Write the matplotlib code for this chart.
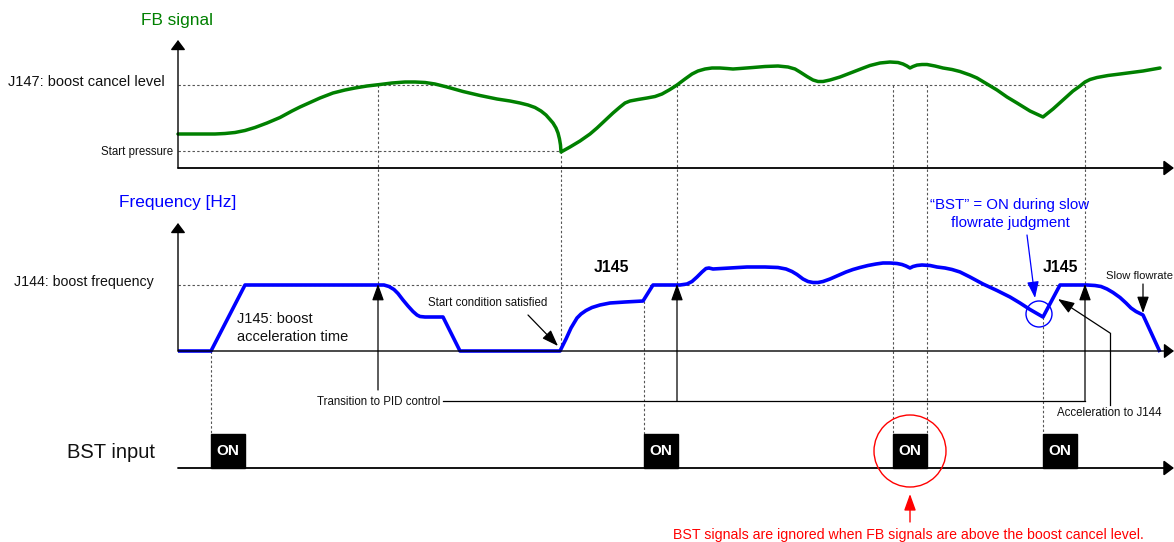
import matplotlib
matplotlib.use("Agg")
import matplotlib.pyplot as plt
from matplotlib.patches import Circle, Rectangle

plt.rcParams['font.family'] = ['Liberation Sans', 'DejaVu Sans']

# ---------------- data (diagram units: x = time, y = screen level) ----------------
fb_x = [178, 200, 215, 225, 235, 245, 255, 267, 280, 292, 300, 310, 320, 333, 345, 355, 367, 380,
        392, 405, 415, 425, 435, 447, 463, 480, 497, 510, 520, 528, 535, 541, 546, 550, 553, 556,
        558, 559.5, 560.5, 561, 570, 580, 590, 597, 605, 613, 620, 625, 630, 638, 647, 655, 662,
        670, 677, 685, 692, 698, 705, 712, 720, 727, 733, 740, 753, 765, 778, 788, 795, 800, 807,
        813, 818, 823, 830, 840, 853, 862, 870, 880, 890, 898, 903, 907, 910, 913, 917, 922, 927,
        935, 943, 952, 960, 970, 977, 987, 997, 1007, 1017, 1030, 1043, 1053, 1063, 1073, 1080,
        1085, 1090, 1097, 1108, 1120, 1143, 1160]
fb_y = [134, 134, 134, 133.5, 132.5, 130.5, 127.5, 123, 117.5, 111, 107, 102.5, 98, 93, 90, 88, 86, 84.5,
        83, 82, 82, 82.5, 84, 87, 91.5, 95.5, 99, 101, 103, 105, 107.5, 111, 115, 119.5, 123, 128,
        133, 139, 145, 152, 147, 141, 134, 128, 120.5, 113, 107, 103, 101, 99.5, 98, 96.5, 94,
        89.5, 85, 79, 74, 71, 69, 68, 68, 68.5, 69, 68.5, 67.5, 66.5, 66, 67, 69, 72, 76.5,
        80, 81.5, 81.5, 80, 77, 72, 68.5, 65.5, 63, 62, 62.5, 64, 66, 68, 66.5, 65, 64.5, 64.5,
        66, 68, 69.5, 71.5, 75, 78, 84, 90, 97, 103, 111, 117, 109, 100, 91, 86,
        82, 79.5, 77.5, 75.5, 74, 71, 68]

freq_x = [178, 211, 245, 378, 384, 389, 394, 398, 403, 408, 413, 417, 420, 425, 443, 460, 560, 566,
          571, 577, 581, 586, 592, 600, 610, 625, 643, 653, 680, 687, 692, 697, 702, 706, 709, 713,
          730, 747, 765, 778, 786, 792, 797, 803, 808, 813, 818, 823, 830, 838, 846, 853, 860, 868,
          876, 883, 890, 897, 902, 906, 910, 913, 917, 922, 930, 937, 945, 952, 960, 970, 983, 997,
          1010, 1020, 1030, 1043, 1060, 1087, 1095, 1101, 1107, 1113, 1120, 1126, 1131, 1136, 1143, 1160]
freq_y = [351, 351, 285, 285, 285, 286.5, 289.5, 293.5, 300, 306, 311.5, 315, 316.5, 317, 317, 351, 351, 339,
          328, 318, 314, 310.5, 307.5, 305, 303, 302, 301, 285, 285, 284, 281.5, 277, 272, 268.5, 268, 269,
          268, 267, 267, 267.5, 269, 271.5, 274.5, 279, 281.5, 282.5, 282.5, 281.5, 279, 275.5, 272, 269.5, 267.5, 265.5,
          264, 263, 263, 263.5, 264.5, 266, 268, 266.5, 265.5, 265, 265.5, 267, 268, 269.5, 272, 277, 284, 290.5,
          297, 303, 309.5, 317, 285, 285, 285.5, 286.5, 289, 292.5, 297.5, 303, 308, 311.5, 315, 352]

cancel_level_y = 85
start_pressure_y = 151
boost_freq_y = 285
fb_axis_y = 168
freq_axis_y = 351
bst_axis_y = 468
axis_x0 = 178
axis_x1 = 1174

bst_on_x = [211, 644, 893, 1043]
on_w = 34
on_top = 434

GREEN = '#008000'
BLUE = '#0000FF'
RED = '#FF0000'
DOT = '#555555'
TXT = '#111111'

fig = plt.figure(figsize=(11.74, 5.42), dpi=100)
ax = fig.add_axes([0, 0, 1, 1])
ax.set_xlim(0, 1174)
ax.set_ylim(542, 0)
ax.axis('off')

dot_kw = dict(color=DOT, lw=0.8, ls=(0, (2.2, 2.0)), zorder=1)


def arrow(x0, y0, x1, y1, color='black', ms=10, lw=0.9, hw=0.36, hl=1.0):
    ax.annotate('', xy=(x1, y1), xytext=(x0, y0),
                arrowprops=dict(arrowstyle=f'-|>,head_width={hw},head_length={hl}',
                                color=color, lw=lw, shrinkA=0, shrinkB=0,
                                mutation_scale=ms), zorder=4)


# ---------------- axes ----------------
ax_kw = dict(color='black', ms=10, hw=0.45, hl=0.6)
arrow(axis_x0, fb_axis_y, axis_x0, 40, lw=1.0, **ax_kw)
arrow(axis_x0, fb_axis_y, axis_x1, fb_axis_y, lw=1.3, **ax_kw)
arrow(axis_x0, freq_axis_y, axis_x0, 223, lw=1.0, **ax_kw)
arrow(axis_x0, freq_axis_y, axis_x1, freq_axis_y, lw=1.0, **ax_kw)
arrow(axis_x0, bst_axis_y, axis_x1, bst_axis_y, lw=1.3, **ax_kw)

# ---------------- level lines ----------------
ax.plot([axis_x0, 1085], [cancel_level_y] * 2, **dot_kw)
ax.plot([axis_x0, 561], [start_pressure_y] * 2, **dot_kw)
ax.plot([axis_x0, 1085], [boost_freq_y] * 2, **dot_kw)

# vertical dotted guides
for gx, ya, yb in [(378, cancel_level_y, boost_freq_y), (561, start_pressure_y, freq_axis_y),
                   (677, cancel_level_y, boost_freq_y), (893, cancel_level_y, on_top),
                   (927, cancel_level_y, on_top), (1085, cancel_level_y, boost_freq_y),
                   (211, freq_axis_y, on_top), (644, 301, on_top), (1043, 317, on_top)]:
    ax.plot([gx, gx], [ya, yb], **dot_kw)

# ---------------- curves ----------------
ax.plot(fb_x, fb_y, color=GREEN, lw=2.5, solid_joinstyle='round', solid_capstyle='round', zorder=3)
ax.plot(freq_x, freq_y, color=BLUE, lw=2.6, solid_joinstyle='round', solid_capstyle='butt', zorder=3)

# ---------------- labels ----------------
ax.text(177, 20, 'FB signal', color=GREEN, fontsize=12.4, ha='center', va='center')
ax.text(178, 203, 'Frequency [Hz]', color=BLUE, fontsize=12.4, ha='center', va='center')
ax.text(8, 82, 'J147: boost cancel level', color=TXT, fontsize=10.5, ha='left', va='center')
ax.text(173, 152, 'Start pressure', color=TXT, fontsize=8.3, ha='right', va='center')
ax.text(14, 282, 'J144: boost frequency', color=TXT, fontsize=10.2, ha='left', va='center')
ax.text(237, 319, 'J145: boost', color=TXT, fontsize=10.5, ha='left', va='center')
ax.text(237, 337, 'acceleration time', color=TXT, fontsize=10.5, ha='left', va='center')
ax.text(611, 267, 'J145', color='black', fontsize=11.3, fontweight='bold', ha='center', va='center')
ax.text(1060, 267, 'J145', color='black', fontsize=11.3, fontweight='bold', ha='center', va='center')
ax.text(488, 303, 'Start condition satisfied', color=TXT, fontsize=8.3, ha='center', va='center')
ax.text(440, 402, 'Transition to PID control', color=TXT, fontsize=8.3, ha='right', va='center')
ax.text(1109, 413, 'Acceleration to J144', color=TXT, fontsize=8.3, ha='center', va='center')
ax.text(1173, 276, 'Slow flowrate', color=TXT, fontsize=8.1, ha='right', va='center')
ax.text(1010, 205, '\u201cBST\u201d = ON during slow', color=BLUE, fontsize=10.8, ha='center', va='center')
ax.text(1010, 223, 'flowrate judgment', color=BLUE, fontsize=10.8, ha='center', va='center')
ax.text(111, 452, 'BST input', color=TXT, fontsize=14.5, ha='center', va='center')
ax.text(908, 535, 'BST signals are ignored when FB signals are above the boost cancel level.',
        color=RED, fontsize=10.2, ha='center', va='center')

# ---------------- annotation arrows ----------------
# Transition to PID control
ax.plot([443, 1085], [401, 401], color='black', lw=0.9, zorder=2)
arrow(378, 390, 378, 284)
arrow(677, 401, 677, 284)
arrow(1085, 401, 1085, 284)
# Start condition satisfied
arrow(528, 315, 558, 346)
# Acceleration to J144
ax.plot([1110, 1110], [405, 333], color='black', lw=0.9, zorder=2)
arrow(1110, 333, 1058, 299)
# Slow flowrate
arrow(1143, 284, 1143, 313)
# BST during slow flowrate
arrow(1027, 235, 1035, 298, color=BLUE, lw=0.9)
ax.add_patch(Circle((1039, 314), 13, fill=False, edgecolor=BLUE, lw=1.0, zorder=5))
# Red ignored note
ax.add_patch(Circle((910, 451), 36, fill=False, edgecolor=RED, lw=1.0, zorder=5))
arrow(910, 522, 910, 494, color=RED, lw=1.0)

# ---------------- BST ON boxes ----------------
for bx in bst_on_x:
    ax.add_patch(Rectangle((bx, on_top), on_w, bst_axis_y - on_top, facecolor='black',
                           edgecolor='black', zorder=4))
    ax.text(bx + on_w / 2, (on_top + bst_axis_y) / 2, 'ON', color='white', fontsize=11,
            fontweight='bold', ha='center', va='center', zorder=6)

fig.savefig('out.png', dpi=100)
